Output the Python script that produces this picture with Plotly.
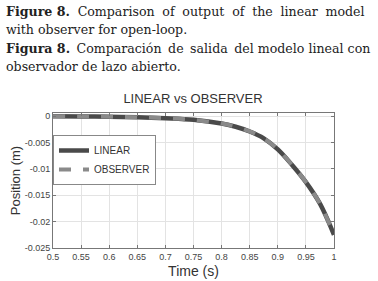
import plotly.graph_objects as go

time_s = [0.5, 0.55, 0.6, 0.65, 0.7, 0.75, 0.8, 0.825, 0.85, 0.875, 0.9, 0.925, 0.95, 0.975, 1.0]
linear_pos = [0.0, -0.00005, -0.0001, -0.0002, -0.0004, -0.0007, -0.0014, -0.002, -0.0029, -0.0042,
              -0.0063, -0.0092, -0.0125, -0.0166, -0.0225]
observer_pos = [0.0, -0.00005, -0.0001, -0.0002, -0.0004, -0.0007, -0.0014, -0.002, -0.0029, -0.0042,
                -0.0063, -0.0092, -0.0125, -0.0166, -0.0225]

x_ticks = [0.5, 0.55, 0.6, 0.65, 0.7, 0.75, 0.8, 0.85, 0.9, 0.95, 1.0]
x_ticklabels = ["0.5", "0.55", "0.6", "0.65", "0.7", "0.75", "0.8", "0.85", "0.9", "0.95", "1"]
y_ticks = [0, -0.005, -0.01, -0.015, -0.02, -0.025]
y_ticklabels = ["0", "-0.005", "-0.01", "-0.015", "-0.02", "-0.025"]

caption_lines = [
    "<b>Figure 8.</b> Comparison of output of the linear model",
    "with observer for open-loop.",
    "<b>Figura 8.</b> Comparación de salida del modelo lineal con",
    "observador de lazo abierto.",
]
# extra spacing inserted in word gaps to imitate the justified lines
caption_gap_fill = [("\u2009\u200a", 99), ("", 0), ("\u2009", 4), ("", 0)]

W, H = 378, 281
ml, mr, mt, mb = 53, 44, 113, 33
plot_h = H - mt - mb
plot_w = W - ml - mr

fig = go.Figure()
fig.add_trace(go.Scatter(x=time_s, y=linear_pos, mode="lines", name="LINEAR",
                         line=dict(color="#4a4a4a", width=4.5, shape="spline")))
fig.add_trace(go.Scatter(x=time_s, y=observer_pos, mode="lines", name="OBSERVER",
                         line=dict(color="#8a8a8a", width=4, dash="dash", shape="spline")))

axis_common = dict(showgrid=True, gridcolor="#e3e3e3", gridwidth=1, showline=True,
                   linecolor="#777", linewidth=1, mirror="ticks", ticks="inside",
                   ticklen=3, tickcolor="#777", zeroline=False, automargin=False,
                   tickfont=dict(family="Liberation Sans, Arial", size=9, color="#444"))

fig.update_xaxes(range=[0.5, 1.0], tickvals=x_ticks, ticktext=x_ticklabels,
                 title=dict(text="Time (s)", font=dict(family="Liberation Sans, Arial", size=14, color="#333"), standoff=5),
                 **axis_common)
fig.update_yaxes(range=[-0.025, 0.0006], tickvals=y_ticks, ticktext=y_ticklabels,
                 title=dict(text="Position (m)", font=dict(family="Liberation Sans, Arial", size=13, color="#333"), standoff=1),
                 **axis_common)

annotations = []
line_y_px = [12, 30, 48, 66]
for txt, (fill, count), ypx in zip(caption_lines, caption_gap_fill, line_y_px):
    if fill:
        head, _, tail = txt.partition("</b>")
        txt = head + "</b>" + tail.replace(" ", " " + fill, count)
    annotations.append(dict(text=txt, xref="paper", yref="paper",
                            x=(4 - ml) / plot_w, y=(H - mb - ypx) / plot_h,
                            xanchor="left", yanchor="middle", showarrow=False,
                            font=dict(family="DejaVu Serif, serif", size=12.6, color="#222")))

fig.update_layout(
    width=W, height=H,
    margin=dict(l=ml, r=mr, t=mt, b=mb, autoexpand=False),
    paper_bgcolor="white", plot_bgcolor="white",
    title=dict(text="LINEAR vs OBSERVER", x=193 / W, xanchor="center",
               y=1 - 98 / H, yanchor="middle", yref="container",
               font=dict(family="Liberation Sans, Arial", size=13, color="#333")),
    legend=dict(x=0, y=(H - mb - 135) / plot_h, xanchor="left", yanchor="top",
                bgcolor="white", bordercolor="#888", borderwidth=1,
                font=dict(family="Liberation Sans, Arial", size=10, color="#333"),
                tracegroupgap=0, itemwidth=30),
    showlegend=True,
    annotations=annotations,
)

fig.write_html("out.html", config={"displayModeBar": False},
               post_script="document.body.style.margin='0';")
